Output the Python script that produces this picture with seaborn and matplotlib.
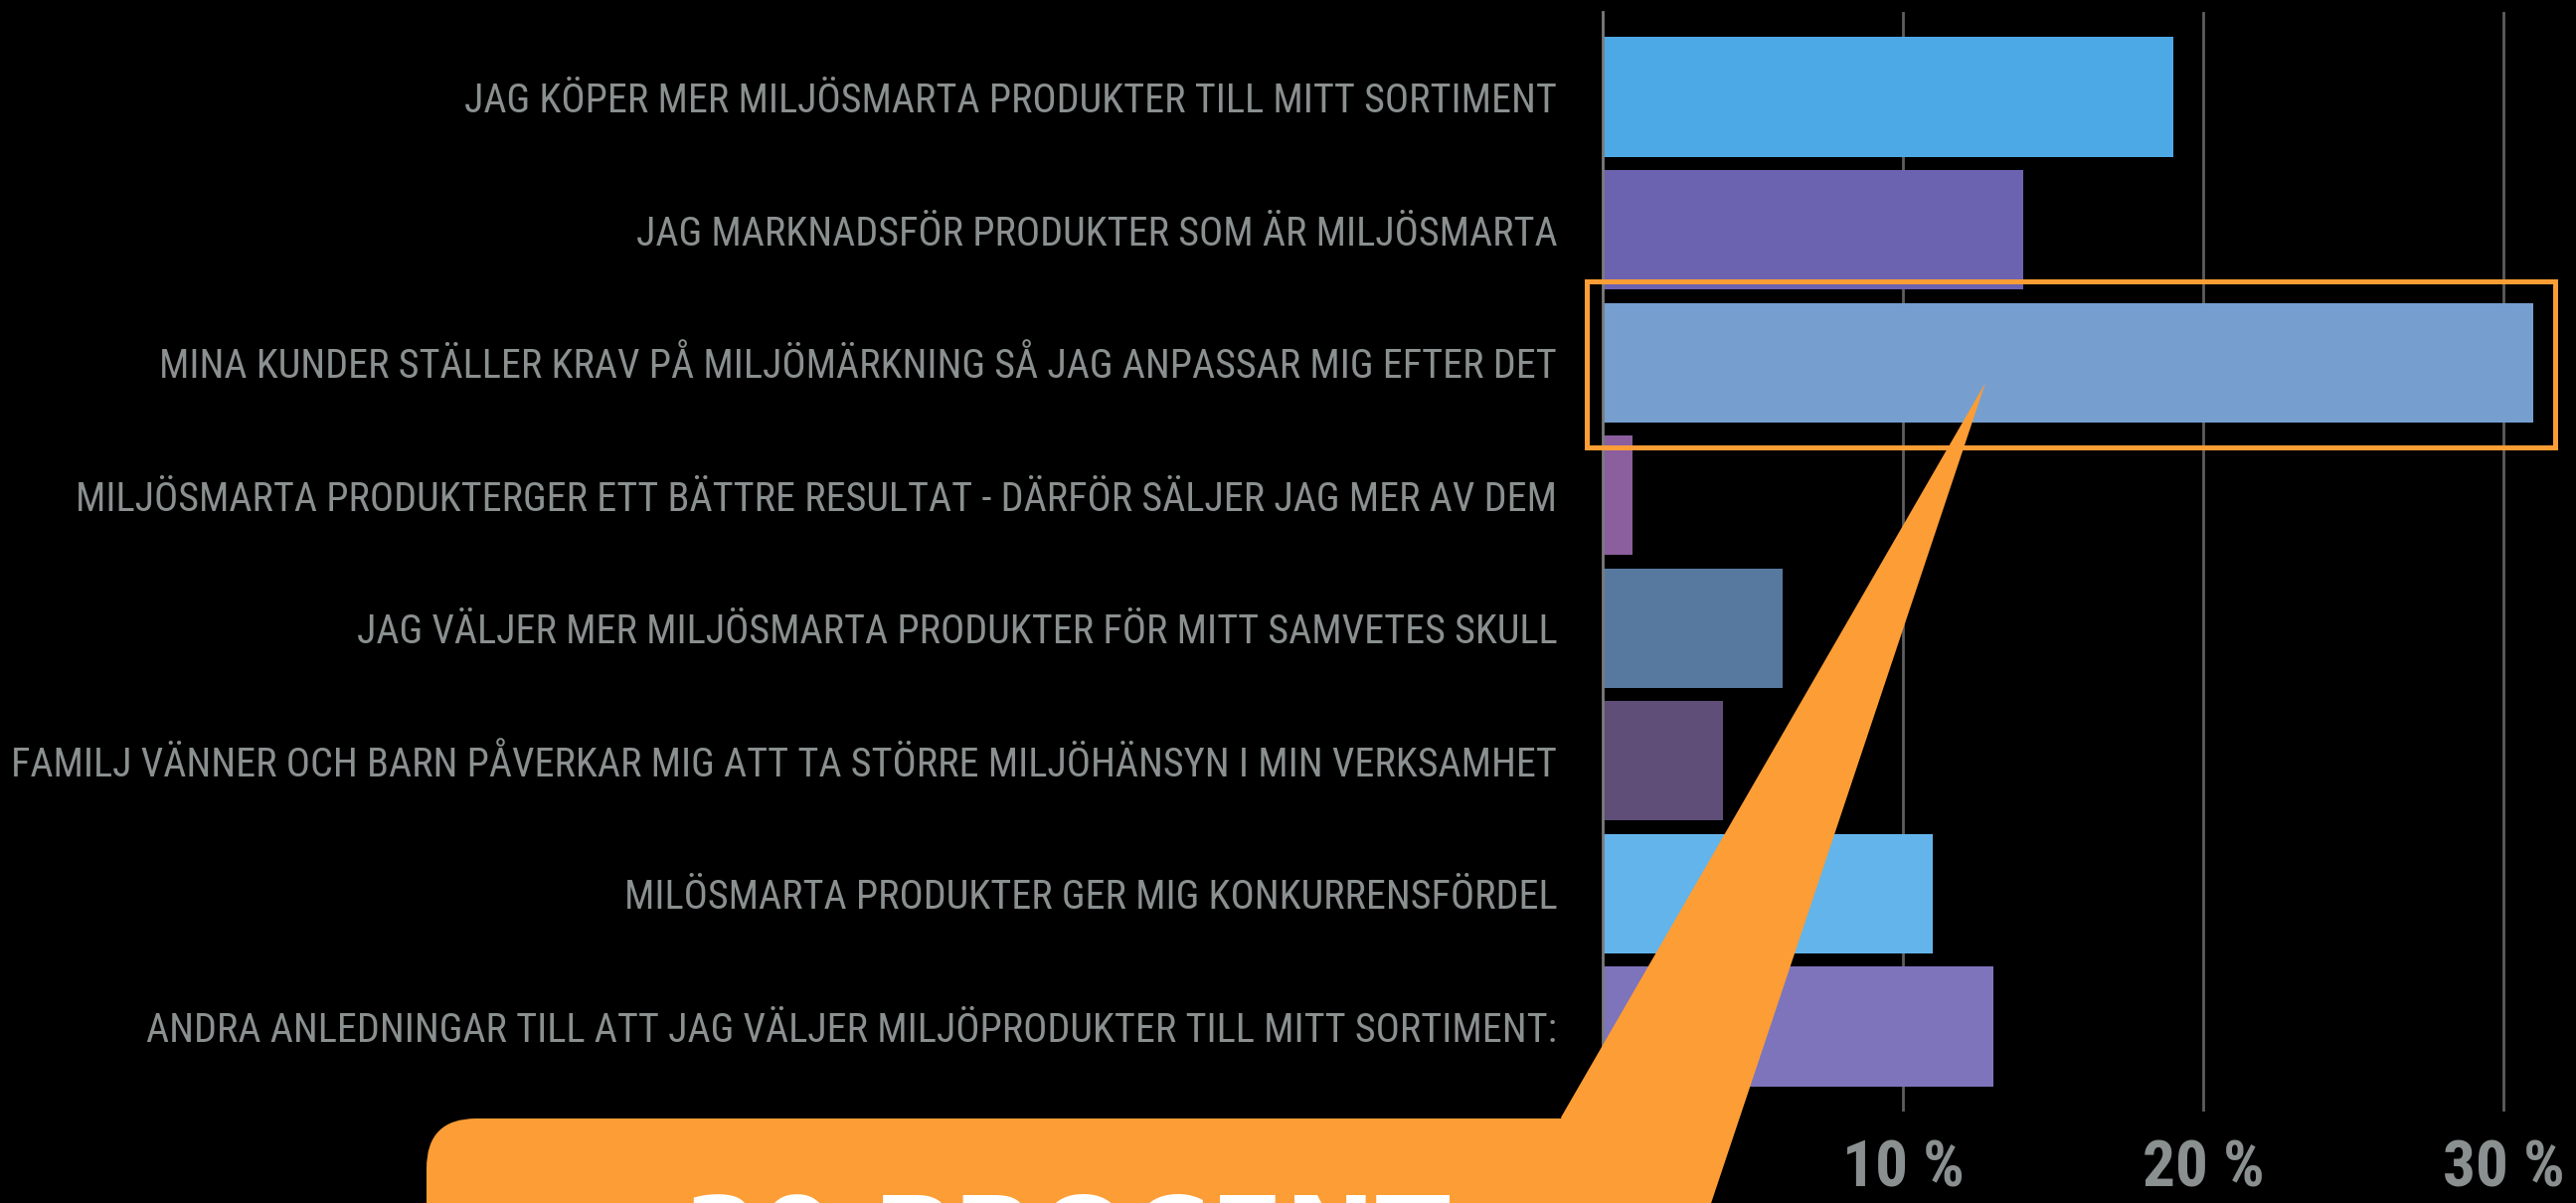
import numpy as np
import pandas as pd
import matplotlib
matplotlib.use("Agg")
import matplotlib.pyplot as plt
from matplotlib import font_manager
from matplotlib.patches import FancyBboxPatch, Polygon, Rectangle
from matplotlib.transforms import IdentityTransform
import seaborn as sns

# data
reasons = [
    "JAG KÖPER MER MILJÖSMARTA PRODUKTER TILL MITT SORTIMENT",
    "JAG MARKNADSFÖR PRODUKTER SOM ÄR MILJÖSMARTA",
    "MINA KUNDER STÄLLER KRAV PÅ MILJÖMÄRKNING SÅ JAG ANPASSAR MIG EFTER DET",
    "MILJÖSMARTA PRODUKTERGER ETT BÄTTRE RESULTAT - DÄRFÖR SÄLJER JAG MER AV DEM",
    "JAG VÄLJER MER MILJÖSMARTA PRODUKTER FÖR MITT SAMVETES SKULL",
    "FAMILJ VÄNNER OCH BARN PÅVERKAR MIG ATT TA STÖRRE MILJÖHÄNSYN I MIN VERKSAMHET",
    "MILÖSMARTA PRODUKTER GER MIG KONKURRENSFÖRDEL",
    "ANDRA ANLEDNINGAR TILL ATT JAG VÄLJER MILJÖPRODUKTER TILL MITT SORTIMENT:",
]
percent = [19, 14, 31, 1, 6, 4, 11, 13]
bar_colors = ["#4DA9E6", "#6C63B0", "#769FD0", "#8B5E9E",
              "#57799F", "#5F4E77", "#63B4EA", "#7D74BC"]
x_ticks = [10, 20, 30]
x_ticklabels = ["10 %", "20 %", "30 %"]
callout_text = "30 PROCENT"

W, H = 2591, 1210
GREY = "#8A8F8F"
ORANGE = "#FD9D35"

sns.set_theme(style="white", rc={
    "figure.facecolor": "black", "axes.facecolor": "black",
    "savefig.facecolor": "black",
})
names = {f.name for f in font_manager.fontManager.ttflist}
narrow = next((n for n in ["Liberation Sans Narrow", "Roboto Condensed",
                           "Open Sans Condensed", "DejaVu Sans"] if n in names),
              "DejaVu Sans")
plt.rcParams["font.family"] = [narrow, "DejaVu Sans"]

df = pd.DataFrame({"reason": reasons, "percent": percent})

fig = plt.figure(figsize=(W / 100, H / 100), dpi=100)
ax = fig.add_axes([1612 / W, 1 - 1118 / H, (W - 1612) / W, (1118 - 12) / H])
sns.barplot(data=df, x="percent", y="reason", hue="reason", palette=bar_colors,
            legend=False, width=0.9, saturation=1, orient="h",
            edgecolor="none", linewidth=0, ax=ax)

ax.set_xlim(0, (W - 1612) / 30.2)
ax.set_ylim(len(reasons) - 1 + 0.64, -0.64)
ax.set_xlabel(""); ax.set_ylabel("")
ax.set_xticks(x_ticks)
ax.set_xticklabels(x_ticklabels, color=GREY, fontsize=47, fontweight="bold",
                   fontstretch="condensed")
ax.tick_params(axis="both", length=0)
ax.tick_params(axis="x", pad=20)
ax.tick_params(axis="y", pad=33)
ax.xaxis.grid(True, color="#5E5E5E", lw=2)
ax.set_axisbelow(True)
for s in ["top", "right", "bottom"]:
    ax.spines[s].set_visible(False)
ax.spines["left"].set_color("#7C7C7C")
ax.spines["left"].set_linewidth(2)

# size the category labels so the longest one fits the reference width
for t in ax.get_yticklabels():
    t.set_color(GREY); t.set_fontsize(30); t.set_fontstretch("condensed")
fig.canvas.draw()
r = fig.canvas.get_renderer()
widest = max(t.get_window_extent(r).width for t in ax.get_yticklabels())
for t in ax.get_yticklabels():
    t.set_fontsize(30 * 1551 / widest)

# highlight frame around the largest bar
hi = int(np.argmax(percent))
ax.add_patch(Rectangle((-0.53, hi - 0.61), percent[hi] + 1.25, 1.25,
                       fill=False, ec=ORANGE, lw=3.6, clip_on=False, zorder=5))

# speech bubble callout (pixel coordinates, y measured from the top)
px = IdentityTransform()
fig.patches.append(FancyBboxPatch((429, H - 1400), 1271, 1400 - 1125,
                                  boxstyle="round,pad=0,rounding_size=50",
                                  fc=ORANGE, ec="none", transform=px, zorder=3))
fig.patches.append(Polygon([(1997, H - 385), (1570, H - 1124), (1681, H - 1330)],
                           closed=True, fc=ORANGE, ec="none", transform=px, zorder=3))
fig.text(687, H - 1283, callout_text, transform=px, color="white", fontsize=79,
         fontweight="heavy", family="DejaVu Sans", ha="left", va="baseline", zorder=4)

fig.savefig("out.png", dpi=100)
